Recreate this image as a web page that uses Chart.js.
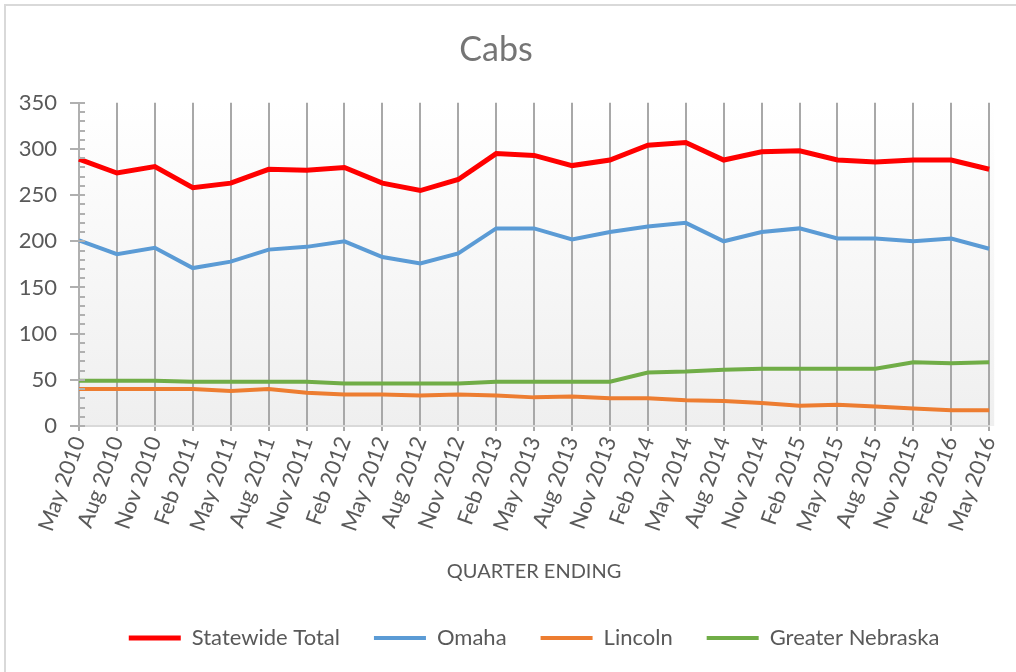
<!DOCTYPE html>
<html>
<head>
<meta charset="utf-8">
<script src="https://cdn.jsdelivr.net/npm/chart.js@4"></script>
<style>
  html, body { margin: 0; padding: 0; background: #fff; }
  #wrap { width: 1016px; height: 672px; position: relative; }
</style>
</head>
<body>
<div id="wrap"><canvas id="chart" width="1016" height="672"></canvas></div>
<script>
// --- Data ---
const quarters = [
  'May 2010', 'Aug 2010', 'Nov 2010', 'Feb 2011', 'May 2011', 'Aug 2011', 'Nov 2011',
  'Feb 2012', 'May 2012', 'Aug 2012', 'Nov 2012', 'Feb 2013', 'May 2013', 'Aug 2013',
  'Nov 2013', 'Feb 2014', 'May 2014', 'Aug 2014', 'Nov 2014', 'Feb 2015', 'May 2015',
  'Aug 2015', 'Nov 2015', 'Feb 2016', 'May 2016'
];
const statewide = [289, 274, 281, 258, 263, 278, 277, 280, 263, 255, 267, 295, 293, 282, 288, 304, 307, 288, 297, 298, 288, 286, 288, 288, 278];
const omaha = [201, 186, 193, 171, 178, 191, 194, 200, 183, 176, 187, 214, 214, 202, 210, 216, 220, 200, 210, 214, 203, 203, 200, 203, 192];
const lincoln = [40, 40, 40, 40, 38, 40, 36, 34, 34, 33, 34, 33, 31, 32, 30, 30, 28, 27, 25, 22, 23, 21, 19, 17, 17];
const greaterNebraska = [49, 49, 49, 48, 48, 48, 48, 46, 46, 46, 46, 48, 48, 48, 48, 58, 59, 61, 62, 62, 62, 62, 69, 68, 69];
const yMax = 350;
const yStep = 50;
const yMinorStep = 10;

const TEXT = '#595959';
const FONT = 'Lato, "Open Sans", sans-serif';

// --- Plugins ---
// white page, light frame, and the grey gradient behind the plot
const framePlugin = {
  id: 'frame',
  beforeDraw(chart) {
    const { ctx, chartArea: a } = chart;
    ctx.save();
    ctx.fillStyle = '#fff';
    ctx.fillRect(0, 0, chart.width, chart.height);
    ctx.strokeStyle = '#d9d9d9';
    ctx.lineWidth = 2;
    ctx.strokeRect(5, 5, chart.width + 20, chart.height + 20);
    const g = ctx.createLinearGradient(0, a.top, 0, a.bottom);
    g.addColorStop(0, '#ffffff');
    g.addColorStop(1, '#efefef');
    ctx.fillStyle = g;
    ctx.fillRect(a.left, a.top, a.right - a.left + 5, a.bottom - a.top);
    ctx.restore();
  }
};

// major/minor tick marks on the value axis
const yTicksPlugin = {
  id: 'yTickMarks',
  afterDraw(chart) {
    const { ctx } = chart;
    const y = chart.scales.y;
    const x0 = y.right;
    ctx.save();
    ctx.strokeStyle = '#b0b0b0';
    ctx.lineWidth = 2;
    for (let v = 0; v <= yMax; v += yMinorStep) {
      const py = Math.round(y.getPixelForValue(v));
      ctx.beginPath();
      if (v % yStep === 0) {
        ctx.moveTo(x0 - 9, py);
        ctx.lineTo(x0 + 6, py);
      } else {
        ctx.moveTo(x0, py);
        ctx.lineTo(x0 + 6, py);
      }
      ctx.stroke();
    }
    ctx.restore();
  }
};

function series(label, data, color, width) {
  return {
    label,
    data,
    borderColor: color,
    backgroundColor: color,
    borderWidth: width,
    pointRadius: 0,
    pointHoverRadius: 0,
    pointStyle: 'line',
    tension: 0,
    fill: false
  };
}

const ctx = document.getElementById('chart').getContext('2d');
new Chart(ctx, {
  type: 'line',
  data: {
    labels: quarters,
    datasets: [
      series('Statewide Total', statewide, '#ff0000', 5),
      series('Omaha', omaha, '#5b9bd5', 4),
      series('Lincoln', lincoln, '#ed7d31', 4),
      series('Greater Nebraska', greaterNebraska, '#70ad47', 4)
    ]
  },
  options: {
    responsive: false,
    animation: false,
    layout: { padding: { left: 0, right: 24, top: 0, bottom: 13 } },
    plugins: {
      title: {
        display: true,
        text: 'Cabs',
        color: '#757575',
        font: { family: FONT, size: 34, weight: 'normal' },
        padding: { top: 30, bottom: 32 }
      },
      legend: {
        position: 'bottom',
        fullSize: false,
        labels: {
          color: TEXT,
          font: { family: FONT, size: 22 },
          usePointStyle: true,
          pointStyleWidth: 52,
          boxHeight: 22,
          padding: 34
        }
      },
      tooltip: { enabled: false }
    },
    scales: {
      x: {
        offset: false,
        grid: {
          color: '#a8a8a8',
          lineWidth: 2,
          drawOnChartArea: true,
          tickLength: 5
        },
        border: { color: '#d9d9d9', width: 2 },
        ticks: {
          color: TEXT,
          font: { family: FONT, size: 22 },
          minRotation: 70,
          maxRotation: 70,
          autoSkip: false,
          padding: 2
        },
        title: {
          display: true,
          text: 'QUARTER ENDING',
          color: TEXT,
          font: { family: FONT, size: 20 },
          padding: { top: 10, bottom: 9 }
        },
        afterFit(scale) { scale.height = 167; }
      },
      y: {
        min: 0,
        max: yMax,
        grid: { display: false, drawTicks: false },
        border: { color: '#b0b0b0', width: 2 },
        ticks: {
          stepSize: yStep,
          color: TEXT,
          font: { family: FONT, size: 22 },
          padding: 22
        },
        afterFit(scale) { scale.width = 79; }
      }
    }
  },
  plugins: [framePlugin, yTicksPlugin]
});
</script>
</body>
</html>
